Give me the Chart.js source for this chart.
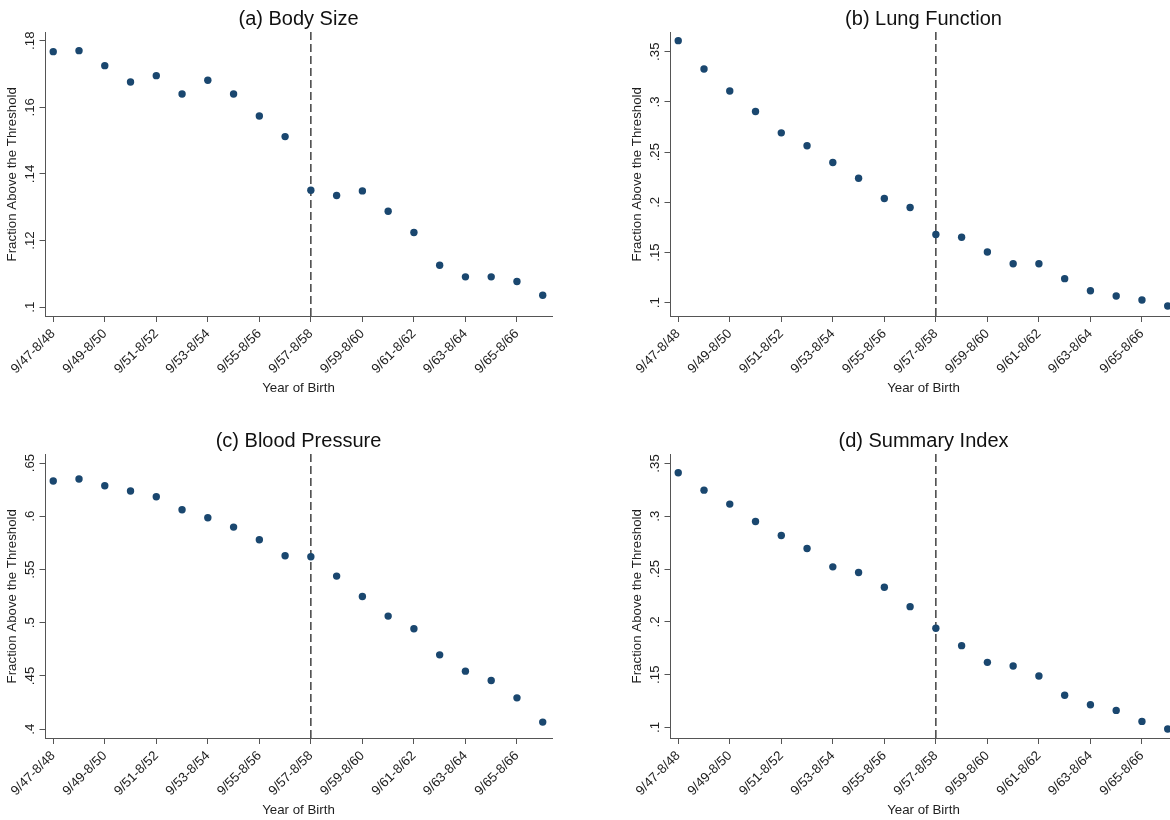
<!DOCTYPE html>
<html>
<head>
<meta charset="utf-8">
<script src="https://cdn.jsdelivr.net/npm/chart.js@4"></script>
<style>
  html, body { margin: 0; padding: 0; background: #fff; overflow: hidden; width: 1170px; height: 820px; }
  canvas { position: absolute; }
</style>
</head>
<body>
<canvas id="panelA" width="600" height="422" style="left:0px;top:0px"></canvas>
<canvas id="panelB" width="600" height="422" style="left:625px;top:0px"></canvas>
<canvas id="panelC" width="600" height="422" style="left:0px;top:422px"></canvas>
<canvas id="panelD" width="600" height="422" style="left:625px;top:422px"></canvas>
<script>
// Birth cohorts (September to August)
const categories = [
  '9/47-8/48', '9/48-8/49', '9/49-8/50', '9/50-8/51', '9/51-8/52',
  '9/52-8/53', '9/53-8/54', '9/54-8/55', '9/55-8/56', '9/56-8/57',
  '9/57-8/58', '9/58-8/59', '9/59-8/60', '9/60-8/61', '9/61-8/62',
  '9/62-8/63', '9/63-8/64', '9/64-8/65', '9/65-8/66', '9/66-8/67'
];
const xTickLabels = [
  '9/47-8/48', '9/49-8/50', '9/51-8/52', '9/53-8/54', '9/55-8/56',
  '9/57-8/58', '9/59-8/60', '9/61-8/62', '9/63-8/64', '9/65-8/66'
];
const cutoffCohort = '9/57-8/58';

// Fraction above the threshold, per cohort
const bodySize = [0.1767, 0.1770, 0.1725, 0.1676, 0.1695, 0.1640, 0.1681, 0.1640, 0.1574, 0.1512,
                  0.1351, 0.1335, 0.1349, 0.1288, 0.1224, 0.1126, 0.1091, 0.1091, 0.1077, 0.1036];
const lungFunction = [0.3610, 0.3327, 0.3108, 0.2905, 0.2692, 0.2563, 0.2397, 0.2240, 0.2038, 0.1948,
                      0.1679, 0.1652, 0.1505, 0.1389, 0.1389, 0.1240, 0.1120, 0.1067, 0.1027, 0.0967];
const bloodPressure = [0.6331, 0.6350, 0.6287, 0.6237, 0.6183, 0.6061, 0.5986, 0.5898, 0.5779, 0.5629,
                       0.5619, 0.5438, 0.5246, 0.5062, 0.4943, 0.4698, 0.4545, 0.4457, 0.4294, 0.4066];
const summaryIndex = [0.3412, 0.3247, 0.3115, 0.2950, 0.2817, 0.2694, 0.2521, 0.2467, 0.2328, 0.2144,
                      0.1939, 0.1775, 0.1617, 0.1582, 0.1488, 0.1305, 0.1216, 0.1162, 0.1058, 0.0986];

// Y-axis tick labels per panel
const yTicksBody = ['.1', '.12', '.14', '.16', '.18'];
const yTicksLung = ['.1', '.15', '.2', '.25', '.3', '.35'];
const yTicksBlood = ['.4', '.45', '.5', '.55', '.6', '.65'];
const yTicksSummary = ['.1', '.15', '.2', '.25', '.3', '.35'];

// Axis ranges
const yRangeBody = [0.0972, 0.1826];
const yRangeLung = [0.0863, 0.3696];
const yRangeBlood = [0.3912, 0.6585];
const yRangeSummary = [0.0896, 0.3589];
const xRange = [-0.32, 19.36];

const FONT = "'Liberation Sans', Arial, Helvetica, sans-serif";
const MARKER = '#1a476f';
const AXIS = '#555555';
const TEXT = '#1e1e1e';
const LABEL_SIZE = 13.3;

const cutoffLine = {
  id: 'cutoffLine',
  beforeDatasetsDraw(chart) {
    const xs = chart.scales.x;
    const area = chart.chartArea;
    const px = xs.getPixelForValue(categories.indexOf(cutoffCohort));
    const ctx = chart.ctx;
    ctx.save();
    ctx.strokeStyle = '#262626';
    ctx.lineWidth = 1.3;
    ctx.setLineDash([8, 4]);
    ctx.beginPath();
    ctx.moveTo(px, area.top);
    ctx.lineTo(px, area.bottom);
    ctx.stroke();
    ctx.restore();
  }
};

function drawPanel(id, title, values, yLabels, yRange) {
  const yVals = yLabels.map(Number);
  const xVals = xTickLabels.map(l => categories.indexOf(l));
  return new Chart(document.getElementById(id), {
    type: 'scatter',
    data: {
      datasets: [{
        data: values.map((v, i) => ({ x: i, y: v })),
        backgroundColor: MARKER,
        borderWidth: 0,
        pointRadius: 3.7,
        pointHoverRadius: 3.7
      }]
    },
    options: {
      responsive: false,
      animation: false,
      events: [],
      layout: { padding: { left: 0, right: 48, top: 0, bottom: 0 } },
      plugins: {
        legend: { display: false },
        tooltip: { enabled: false },
        title: {
          display: true,
          text: title,
          fullSize: false,
          color: '#111111',
          font: { family: FONT, size: 20, weight: 'normal' },
          padding: { top: 7, bottom: 1 }
        }
      },
      scales: {
        x: {
          type: 'linear',
          position: 'bottom',
          min: xRange[0],
          max: xRange[1],
          afterBuildTicks: s => { s.ticks = xVals.map(v => ({ value: v })); },
          afterFit: s => { s.height = 105.5; },
          ticks: {
            autoSkip: false,
            minRotation: 45,
            maxRotation: 45,
            padding: 4,
            color: TEXT,
            font: { family: FONT, size: LABEL_SIZE },
            callback: v => categories[v]
          },
          grid: { drawOnChartArea: false, drawTicks: true, tickLength: 5.5, color: AXIS, lineWidth: 1 },
          border: { display: true, color: AXIS, width: 1 },
          title: {
            display: true,
            text: 'Year of Birth',
            color: TEXT,
            font: { family: FONT, size: LABEL_SIZE },
            padding: { top: 0, bottom: 26 }
          }
        },
        y: {
          type: 'linear',
          position: 'left',
          min: yRange[0],
          max: yRange[1],
          afterBuildTicks: s => { s.ticks = yVals.map(v => ({ value: v })); },
          afterFit: s => { s.width = 45; },
          ticks: {
            autoSkip: false,
            minRotation: 90,
            maxRotation: 90,
            crossAlign: 'center',
            padding: 0,
            color: TEXT,
            font: { family: FONT, size: LABEL_SIZE },
            callback: v => yLabels[yVals.indexOf(v)]
          },
          grid: { drawOnChartArea: false, drawTicks: true, tickLength: 5.5, color: AXIS, lineWidth: 1 },
          border: { display: true, color: AXIS, width: 1 },
          title: {
            display: true,
            text: 'Fraction Above the Threshold',
            color: TEXT,
            font: { family: FONT, size: LABEL_SIZE },
            padding: { top: 4.8, bottom: 0 }
          }
        }
      }
    },
    plugins: [cutoffLine]
  });
}

drawPanel('panelA', '(a) Body Size', bodySize, yTicksBody, yRangeBody);
drawPanel('panelB', '(b) Lung Function', lungFunction, yTicksLung, yRangeLung);
drawPanel('panelC', '(c) Blood Pressure', bloodPressure, yTicksBlood, yRangeBlood);
drawPanel('panelD', '(d) Summary Index', summaryIndex, yTicksSummary, yRangeSummary);
</script>
</body>
</html>
